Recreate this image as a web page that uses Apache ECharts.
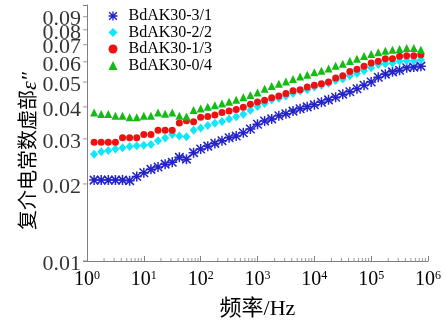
<!DOCTYPE html>
<html>
<head>
<meta charset="utf-8">
<script src="https://cdn.jsdelivr.net/npm/echarts@6/dist/echarts.min.js"></script>
<style>
  html, body { margin: 0; padding: 0; background: #fff; }
  #chart { width: 445px; height: 325px; }
</style>
</head>
<body>
<div id="chart"></div>
<script>
// Measurement frequencies (Hz), eight points per decade
const frequencies = [
  1.334, 1.778, 2.371, 3.162, 4.217, 5.623, 7.499,
  10, 13.34, 17.78, 23.71, 31.62, 42.17, 56.23, 74.99,
  100, 133.4, 177.8, 237.1, 316.2, 421.7, 562.3, 749.9,
  1000, 1334, 1778, 2371, 3162, 4217, 5623, 7499,
  10000, 13340, 17780, 23710, 31620, 42170, 56230, 74990,
  100000, 133400, 177800, 237100, 316200, 421700, 562300, 749900
];

const seriesNames = ['BdAK30-3/1', 'BdAK30-2/2', 'BdAK30-1/3', 'BdAK30-0/4'];

// Imaginary part of the complex permittivity for each sample
const eps31 = [
  0.0207, 0.0207, 0.0207, 0.0207, 0.0207, 0.0206, 0.0214, 0.0221, 0.0228, 0.0233,
  0.0239, 0.0243, 0.0254, 0.0250, 0.0265, 0.0274, 0.0281, 0.0288, 0.0295, 0.0303,
  0.0308, 0.0317, 0.0328, 0.0342, 0.0352, 0.0359, 0.0369, 0.0376, 0.0385, 0.0393,
  0.0400, 0.0408, 0.0417, 0.0426, 0.0436, 0.0448, 0.0458, 0.0471, 0.0486, 0.0500,
  0.0522, 0.0537, 0.0548, 0.0556, 0.0569, 0.0572, 0.0577
];
const eps22 = [
  0.0261, 0.0267, 0.0270, 0.0274, 0.0277, 0.0280, 0.0282, 0.0283, 0.0285, 0.0295,
  0.0302, 0.0312, 0.0308, 0.0306, 0.0324, 0.0331, 0.0338, 0.0345, 0.0351, 0.0359,
  0.0366, 0.0374, 0.0388, 0.0401, 0.0412, 0.0426, 0.0432, 0.0441, 0.0451, 0.0461,
  0.0467, 0.0478, 0.0486, 0.0495, 0.0507, 0.0514, 0.0529, 0.0540, 0.0553, 0.0569,
  0.0585, 0.0589, 0.0594, 0.0603, 0.0606, 0.0606, 0.0611
];
const eps13 = [
  0.0291, 0.0291, 0.0291, 0.0291, 0.0303, 0.0303, 0.0303, 0.0312, 0.0312, 0.0324,
  0.0324, 0.0324, 0.0346, 0.0353, 0.0350, 0.0364, 0.0367, 0.0372, 0.0380, 0.0385,
  0.0391, 0.0399, 0.0410, 0.0418, 0.0425, 0.0434, 0.0441, 0.0451, 0.0462, 0.0467,
  0.0478, 0.0486, 0.0492, 0.0500, 0.0519, 0.0529, 0.0550, 0.0561, 0.0577, 0.0594,
  0.0603, 0.0617, 0.0617, 0.0630, 0.0633, 0.0633, 0.0639
];
const eps04 = [
  0.0380, 0.0375, 0.0375, 0.0369, 0.0369, 0.0364, 0.0364, 0.0369, 0.0369, 0.0380,
  0.0376, 0.0380, 0.0369, 0.0367, 0.0389, 0.0394, 0.0400, 0.0406, 0.0412, 0.0419,
  0.0426, 0.0436, 0.0445, 0.0455, 0.0471, 0.0483, 0.0493, 0.0502, 0.0514, 0.0526,
  0.0534, 0.0546, 0.0554, 0.0565, 0.0579, 0.0590, 0.0604, 0.0617, 0.0632, 0.0644,
  0.0654, 0.0663, 0.0669, 0.0673, 0.0679, 0.0679, 0.0669
];

// Labelled ticks on the logarithmic permittivity axis
const yTickValues = [0.01, 0.02, 0.03, 0.04, 0.05, 0.06, 0.07, 0.08, 0.09];
const yTickLabels = ['0.01', '0.02', '0.03', '0.04', '0.05', '0.06', '0.07', '0.08', '0.09'];

// Minor ticks of the frequency axis (2..9 within each decade)
const xMinorTicks = [
  2, 3, 4, 5, 6, 7, 8, 9,
  20, 30, 40, 50, 60, 70, 80, 90,
  200, 300, 400, 500, 600, 700, 800, 900,
  2000, 3000, 4000, 5000, 6000, 7000, 8000, 9000,
  20000, 30000, 40000, 50000, 60000, 70000, 80000, 90000,
  200000, 300000, 400000, 500000, 600000, 700000, 800000, 900000
];

const SERIF = "'Liberation Serif', 'Times New Roman', serif";
const MIXED = "'Liberation Serif', 'Noto Sans CJK SC', serif";
const AXIS_GREY = '#808080';
const STAR = 'path://M8.5 0L11.5 0L11.5 20L8.5 20Z M0 8.5L20 8.5L20 11.5L0 11.5Z ' +
  'M2.56 0.44L19.56 17.44L17.44 19.56L0.44 2.56Z M17.44 0.44L19.56 2.56L2.56 19.56L0.44 17.44Z';

const toPairs = ys => frequencies.map((f, i) => [f, ys[i]]);

function sampleSeries(name, ys, symbol, size, color) {
  return {
    type: 'scatter',
    name: name,
    data: toPairs(ys),
    symbol: symbol,
    symbolSize: size,
    itemStyle: { color: color, opacity: 1 },
    emphasis: { disabled: true },
    clip: false
  };
}

const chart = echarts.init(document.getElementById('chart'), null, { renderer: 'canvas' });

chart.setOption({
  animation: false,
  backgroundColor: '#fff',
  grid: { left: 87, right: 17, top: 5, bottom: 54, containLabel: false },
  legend: {
    data: seriesNames,
    orient: 'vertical',
    left: 108.5,
    top: 8,
    padding: 0,
    itemGap: 0.5,
    itemWidth: 9,
    itemHeight: 9,
    selectedMode: false,
    textStyle: { fontFamily: SERIF, fontSize: 16, color: '#000', lineHeight: 15, padding: [0, 0, 0, 6] }
  },
  xAxis: {
    type: 'log',
    logBase: 10,
    min: 1,
    max: 1000000,
    splitNumber: 6,
    splitLine: { show: false },
    axisLine: { onZero: false, lineStyle: { color: AXIS_GREY, width: 1 } },
    axisTick: { inside: true, length: 5, lineStyle: { color: AXIS_GREY } },
    axisLabel: {
      margin: 9,
      formatter: v => '{b|10}{s|' + Math.round(Math.log10(v)) + '}',
      rich: {
        b: { fontFamily: SERIF, fontSize: 20, color: '#000', lineHeight: 20 },
        s: { fontFamily: SERIF, fontSize: 12, color: '#000', verticalAlign: 'top', lineHeight: 12 }
      }
    },
    name: '频率/Hz',
    nameLocation: 'middle',
    nameGap: 37,
    nameTextStyle: { fontFamily: MIXED, fontSize: 22, color: '#000' }
  },
  yAxis: {
    type: 'log',
    logBase: 10,
    min: 0.01,
    max: 0.1,
    splitLine: { show: false },
    axisLine: { onZero: false, lineStyle: { color: AXIS_GREY, width: 1 } },
    axisTick: { length: 4, lineStyle: { color: AXIS_GREY } },
    axisLabel: { show: false },
    name: '复介电常数虚部{e|ε″}',
    nameLocation: 'middle',
    nameRotate: 90,
    nameGap: 46,
    nameTextStyle: {
      fontFamily: MIXED, fontSize: 20, color: '#000',
      padding: [0, 36, 0, 0],
      rich: { e: { fontFamily: SERIF, fontStyle: 'italic', fontSize: 22, color: '#000' } }
    }
  },
  series: [
    sampleSeries(seriesNames[0], eps31, STAR, 10, '#2323c8'),
    sampleSeries(seriesNames[1], eps22, 'diamond', [8, 9], '#12e6fa'),
    sampleSeries(seriesNames[2], eps13, 'circle', 7, '#ee1111'),
    sampleSeries(seriesNames[3], eps04, 'triangle', [8, 8], '#13bb13'),
    {
      type: 'scatter',
      name: 'yTicks',
      data: yTickValues.map(v => [1, v]),
      symbol: 'rect',
      symbolSize: [4, 1],
      symbolOffset: [-2, 0],
      itemStyle: { color: AXIS_GREY },
      silent: true,
      clip: false,
      label: {
        show: true,
        position: 'left',
        distance: 2,
        offset: [0, 3],
        formatter: p => yTickLabels[p.dataIndex],
        fontFamily: SERIF,
        fontSize: 22,
        color: '#000'
      }
    },
    {
      type: 'scatter',
      name: 'xMinorTicks',
      data: xMinorTicks.map(v => [v, 0.01]),
      symbol: 'rect',
      symbolSize: [1, 3],
      symbolOffset: [0, -1.5],
      itemStyle: { color: AXIS_GREY },
      silent: true,
      clip: false
    }
  ]
});
</script>
</body>
</html>
